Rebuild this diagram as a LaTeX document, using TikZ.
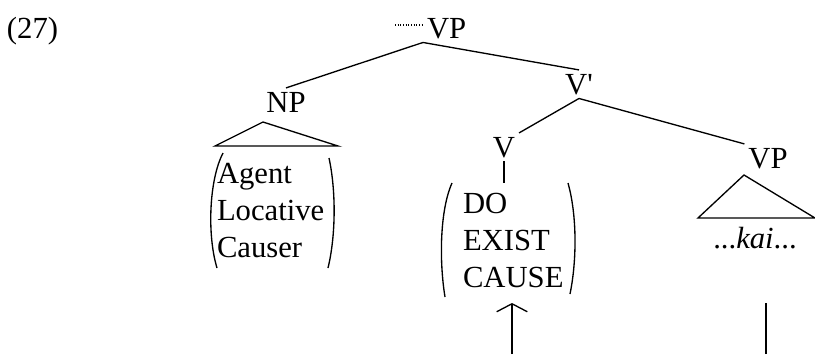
\documentclass[tikz,border=0pt]{standalone}
\usepackage{fontspec}
\setmainfont{Liberation Serif}
\usepackage{tikz}
\usetikzlibrary{arrows.meta}

\tikzset{
	lab/.style={inner sep=0pt,outer sep=3pt,font=\fontsize{23}{27.75}\selectfont},
	item/.style={lab,anchor=base west}
}

\begin{document}
\begin{tikzpicture}[x=0.75pt,y=-0.75pt,line width=1pt]
			\useasboundingbox (0,0) rectangle (815,354);
			\node[item] (num) at (3,38) {(27)};
			\node[item] (vp) at (423,38) {VP};
			\node[lab,anchor=base] (np) at (286,112) {NP};
			\node[lab,anchor=base] (vbar) at (579,94) {V\textquotesingle};
			\node[lab,anchor=base] (v) at (504,157) {V};
			\node[lab,anchor=base] (vpb) at (768,168) {VP};
			\node[item] (agent) at (213,183) {Agent};
			\node[item] (locative) at (213,220) {Locative};
			\node[item] (causer) at (213,257) {Causer};
			\node[item] (do) at (459,213) {DO};
			\node[item] (exist) at (459,250) {EXIST};
			\node[item] (cause) at (459,287) {CAUSE};
			\node[lab,anchor=base] (kai) at (755,248) {...\textit{kai}...};
			\coordinate (trace) at (395,25);
			\coordinate (vpar) at (452,183);
			\coordinate (upfoot) at (512,354);
			\coordinate (uphead) at (512,303);
			\coordinate (kaifoot) at (766,354);
			\coordinate (kaihead) at (766,303);
			\draw [line width=0.8pt,dash pattern=on 0.8pt off 1.2pt] (trace)-- (trace -| vp.west);
			\draw (vp.south west)-- (np.north);
			\draw (vp.south west)-- (vbar.north);
			\draw (vbar.south)-- (v.north east);
			\draw (vbar.south)-- (vpb.north west);
			\draw (v.south)-- (v.south |- vpar);
			\draw (263,122)-- (215,146)-- (338,146)-- cycle;
			\draw (744,175)-- (698,218)-- (815,218)-- cycle;
			\draw (223,153) .. controls (209,180) and (207,235) .. (217,268);
			\draw (329,158) .. controls (336,190) and (336,235) .. (328,268);
			\draw (vpar) .. controls (440,210) and (439,260) .. (445,297);
			\draw (568,183) .. controls (577,215) and (577,260) .. (570,294);
			\draw [-{Straight Barb[length=6pt,width=23pt]}] (upfoot)-- (uphead);
			\draw (kaifoot)-- (kaihead);
		\end{tikzpicture}
\end{document}
